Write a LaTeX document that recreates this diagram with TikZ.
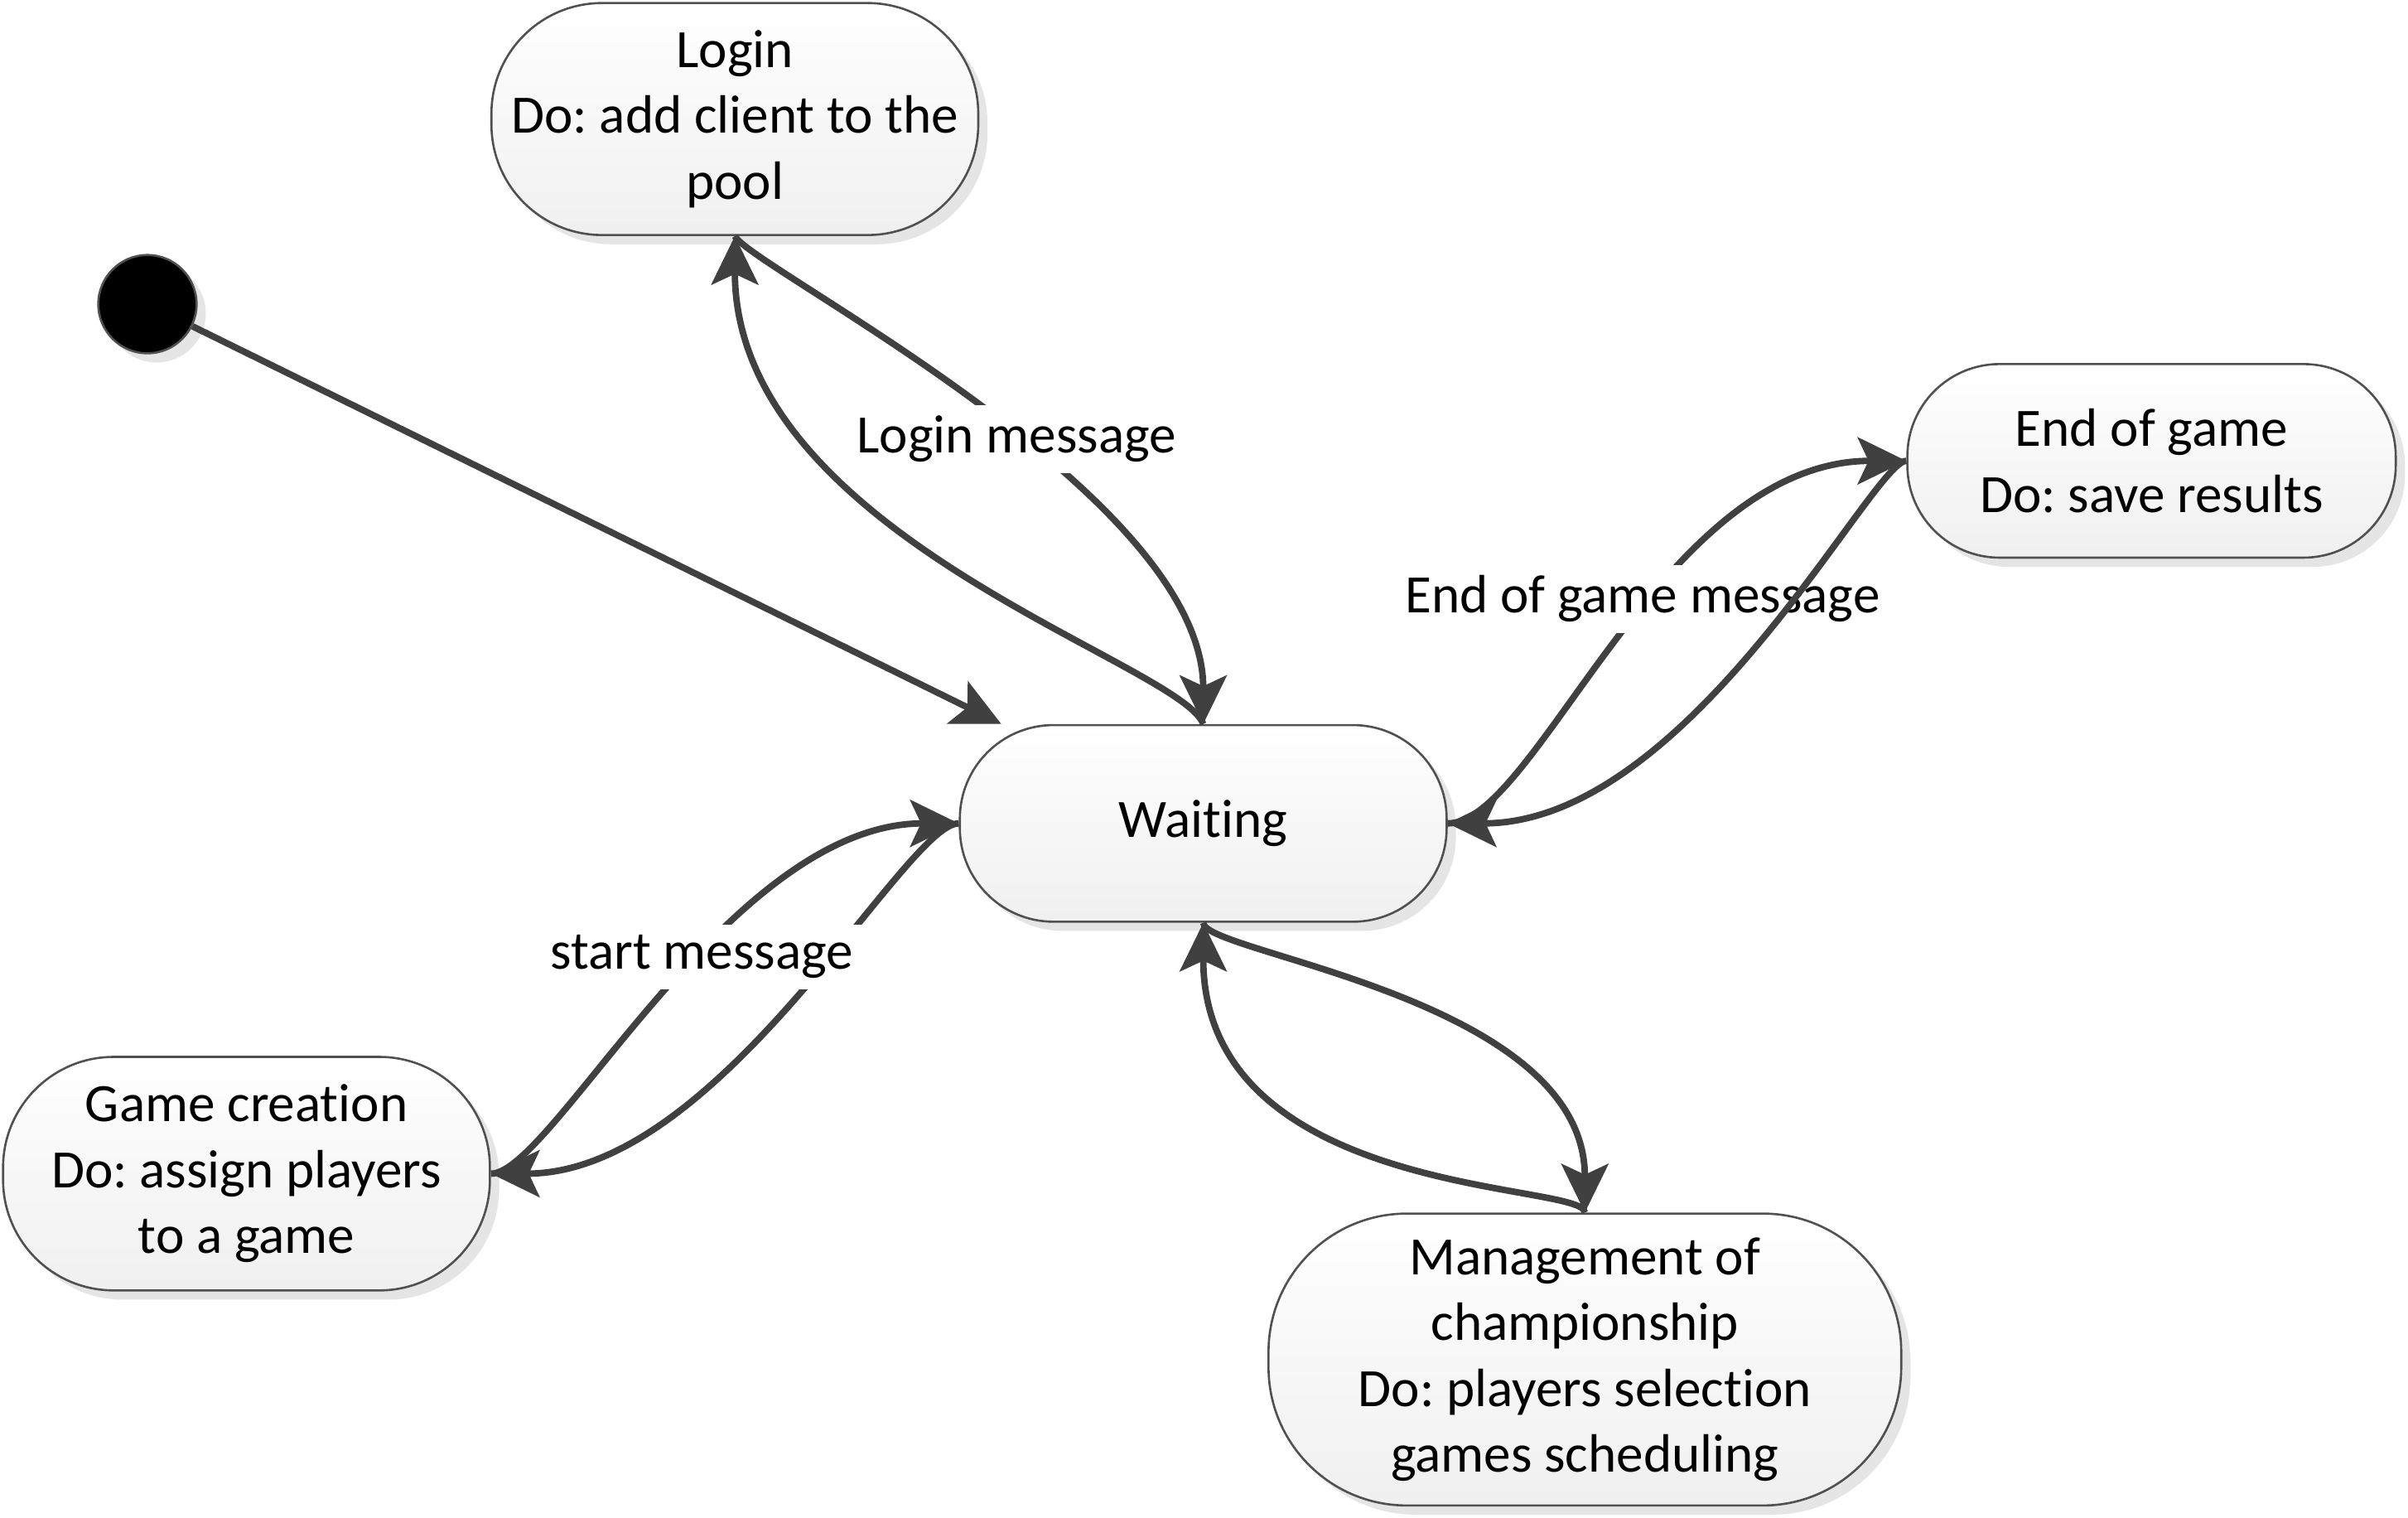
\documentclass[tikz,border=0pt]{standalone}
\usepackage{fontspec}
\setmainfont{Carlito}[Ligatures=NoCommon]
\frenchspacing
\usetikzlibrary{arrows.meta,shadows}
\definecolor{linegray}{HTML}{404040}
\definecolor{edgegray}{HTML}{505050}

\begin{document}
\begin{tikzpicture}[
        font=\fontsize{10}{12.2}\selectfont,
        state/.style={draw=edgegray, line width=0.4pt, rounded corners=#1, top color=white, bottom color=black!6,
            align=center, inner sep=0pt,
            drop shadow={shadow xshift=0.06cm, shadow yshift=-0.06cm, fill=black, opacity=0.1}},
        trans/.style={draw=linegray, line width=1.2pt, -{Stealth[length=9pt, width=8.7pt, inset=2pt]}},
        msg/.style={fill=white, inner sep=2pt}
    ]
    \useasboundingbox (0,0) rectangle (15.68,-9.88);

    \node[state=0.72cm, minimum width=3.17cm, minimum height=1.51cm] (login) at (4.785,-0.775) {Login\\Do: add client to the\\pool};
    \node[state=0.61cm, minimum width=3.17cm, minimum height=1.28cm] (waiting) at (7.835,-5.36) {Waiting};
    \node[state=0.60cm, minimum width=3.18cm, minimum height=1.26cm] (endgame) at (14.01,-3.0) {End of game\\Do: save results};
    \node[state=0.72cm, minimum width=3.17cm, minimum height=1.52cm] (gamecr) at (1.605,-7.64) {Game creation\\Do: assign players\\to a game};
    \node[state=0.90cm, minimum width=4.12cm, minimum height=1.90cm] (champ) at (10.32,-8.85) {Management of\\championship\\Do: players selection\\games scheduling};
    \node[circle, fill=black, draw=edgegray, minimum size=0.64cm, inner sep=0pt,
        drop shadow={shadow xshift=0.06cm, shadow yshift=-0.06cm, fill=black, opacity=0.1}] (init) at (0.96,-1.98) {};

    \draw[trans] (init) -- (waiting);

    \draw[trans] (waiting.north) .. controls +(-0.15,0.4) and +(0,-1.95) .. (login.south);
    \draw[trans] (login.south) .. controls +(0.11,-0.21) and +(0,1.5) .. (waiting.north)
        node[msg, pos=0.56] {Login message};

    \draw[trans] (waiting.east) .. controls +(0.58,0) and +(-1.6,0) .. (endgame.west)
        node[msg, pos=0.58, xshift=-0.08cm] {End of game message};
    \draw[trans] (endgame.west) .. controls +(-0.22,0) and +(1.58,0) .. (waiting.east);

    \draw[trans] (waiting.west) .. controls +(-0.35,0) and +(1.5,0) .. (gamecr.east);
    \draw[trans] (gamecr.east) .. controls +(0.4,0) and +(-1.5,0) .. (waiting.west)
        node[msg, pos=0.58] {start message};

    \draw[trans] (champ.north) .. controls +(0,0.2) and +(0,-1.8) .. (waiting.south);
    \draw[trans] (waiting.south) .. controls +(0,-0.2) and +(0,1.4) .. (champ.north);
\end{tikzpicture}
\end{document}
